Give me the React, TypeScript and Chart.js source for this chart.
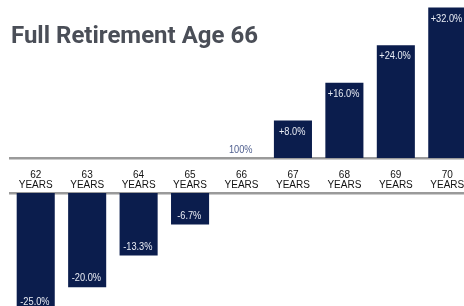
import React, { useEffect, useRef } from "react";
import { Chart, registerables } from "chart.js";
Chart.register(...registerables);

const title = "Full Retirement Age 66";
const categories = ["62", "63", "64", "65", "66", "67", "68", "69", "70"];
const unitLabel = "YEARS";
const adjustments = [-25, -20, -13.3, -6.7, 0, 8, 16, 24, 32];
const valueLabels = ["-25.0%", "-20.0%", "-13.3%", "-6.7%", "100%", "+8.0%", "+16.0%", "+24.0%", "+32.0%"];

const BAR = "#0b1d4d";
const LINE = "#9a9a9a";
const LABEL_FONT = "11px 'Liberation Sans', Arial, sans-serif";
const CONDENSE = 0.84;

const labelPlugin = {
  id: "valueLabels",
  afterDatasetsDraw(chart: any) {
    const ctx = chart.ctx;
    const meta = chart.getDatasetMeta(0);
    const data = chart.data.datasets[0].data;
    meta.data.forEach((bar: any, i: number) => {
      if (data[i] === null || data[i] === undefined) return;
      const v = adjustments[i];
      const { x, y, base } = bar.getProps(["x", "y", "base"], true);
      let ty = 0;
      if (v > 0) {
        ctx.fillStyle = "#e9ecf4";
        ty = y + 14.3;
      } else if (v < 0) {
        ctx.fillStyle = "#e9ecf4";
        ty = y - 6;
      } else {
        ctx.fillStyle = "#4f5f8f";
        ty = base - 5;
      }
      ctx.save();
      ctx.font = LABEL_FONT;
      ctx.textAlign = "center";
      ctx.textBaseline = "alphabetic";
      ctx.translate(x - 0.8, ty);
      ctx.scale(CONDENSE, 1);
      ctx.fillText(valueLabels[i], 0, 0);
      ctx.restore();
    });
  },
};

function topConfig(): any {
  return {
    type: "bar",
    data: {
      labels: categories.map((c) => [c, unitLabel]),
      datasets: [
        {
          data: adjustments.map((v) => (v >= 0 ? v : null)),
          backgroundColor: BAR,
          barPercentage: 0.74,
          categoryPercentage: 1,
        },
      ],
    },
    options: {
      responsive: false,
      animation: false,
      layout: { padding: { left: 10, right: 7, top: 0, bottom: 0 } },
      plugins: { legend: { display: false }, tooltip: { enabled: false } },
      scales: {
        x: {
          grid: { display: false },
          border: { display: true, color: LINE, width: 2.5 },
          ticks: {
            color: "#111111",
            font: { family: "'Liberation Sans', Arial, sans-serif", size: 10, lineHeight: 1.0 },
            padding: 4,
            maxRotation: 0,
            autoSkip: false,
          },
          afterFit: (s: any) => {
            s.height = 34;
          },
        },
        y: { display: false, min: 0, max: 33.6 },
      },
    },
    plugins: [labelPlugin],
  };
}

function bottomConfig(): any {
  return {
    type: "bar",
    data: {
      labels: categories,
      datasets: [
        {
          data: adjustments.map((v) => (v < 0 ? v : null)),
          backgroundColor: BAR,
          barPercentage: 0.74,
          categoryPercentage: 1,
        },
      ],
    },
    options: {
      responsive: false,
      animation: false,
      layout: { padding: { left: 10, right: 7, top: 1, bottom: 0 } },
      plugins: { legend: { display: false }, tooltip: { enabled: false } },
      scales: {
        x: {
          position: "top",
          grid: { display: false },
          border: { display: true, color: LINE, width: 2.5 },
          ticks: { display: false },
          afterFit: (s: any) => {
            s.height = 0;
          },
        },
        y: { display: false, min: -27.4, max: 0 },
      },
    },
    plugins: [labelPlugin],
  };
}

export default function App() {
  const topRef = useRef<HTMLCanvasElement>(null);
  const botRef = useRef<HTMLCanvasElement>(null);
  useEffect(() => {
    const c1 = new Chart(topRef.current as HTMLCanvasElement, topConfig());
    const c2 = new Chart(botRef.current as HTMLCanvasElement, bottomConfig());
    return () => {
      c1.destroy();
      c2.destroy();
    };
  }, []);
  return (
    <div
      style={{
        position: "fixed",
        left: 0,
        top: 0,
        width: 464,
        height: 306,
        overflow: "hidden",
        background: "#fff",
      }}
    >
      <canvas
        ref={topRef}
        width={480}
        height={192}
        style={{ position: "absolute", left: 0, top: 0, width: 480, height: 192 }}
      />
      <canvas
        ref={botRef}
        width={480}
        height={130}
        style={{ position: "absolute", left: 0, top: 192, width: 480, height: 130 }}
      />
      <div
        style={{
          position: "absolute",
          left: 11,
          top: 23,
          font: "bold 24px Roboto",
          lineHeight: "24px",
          color: "#4a4e57",
          whiteSpace: "nowrap",
        }}
      >
        {title}
      </div>
    </div>
  );
}
